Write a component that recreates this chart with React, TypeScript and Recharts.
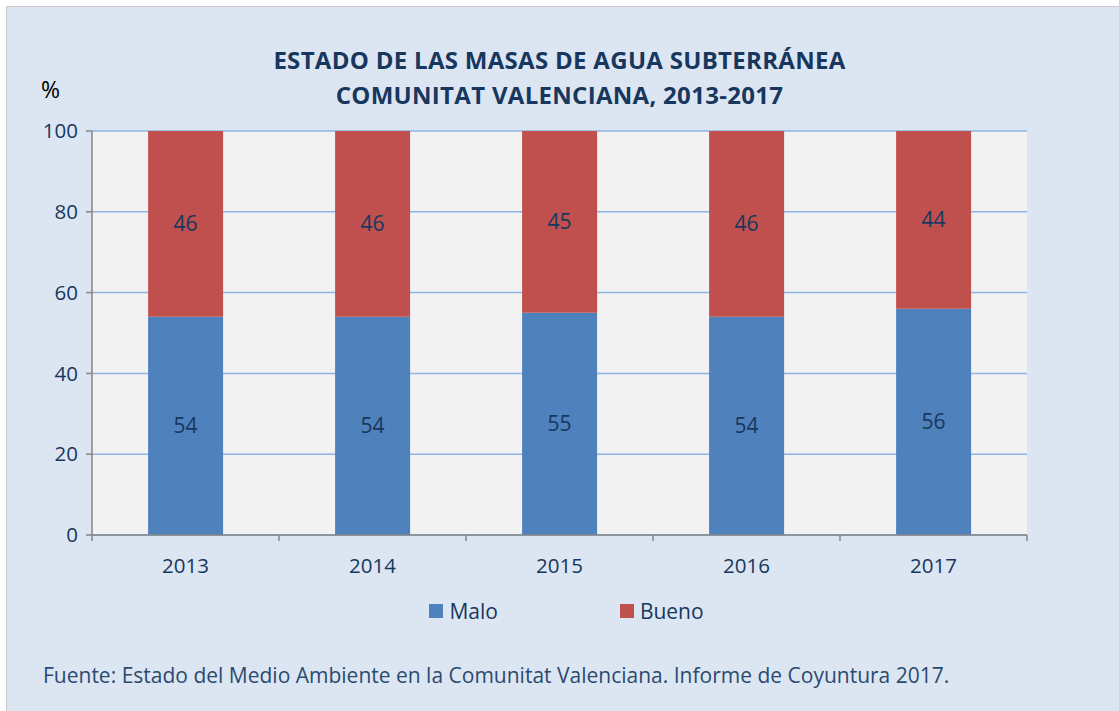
import React from 'react';
import {
  BarChart,
  Bar,
  XAxis,
  YAxis,
  CartesianGrid,
  LabelList,
} from 'recharts';

// Values
const years = ['2013', '2014', '2015', '2016', '2017'];
const malo = [54, 54, 55, 54, 56];
const bueno = [46, 46, 45, 46, 44];
const yTicks = [0, 20, 40, 60, 80, 100];

// bars sit at the middle of each unit slot; whole numbers are the slot edges
const data = years.map((year, i) => ({ x: i + 0.5, year, malo: malo[i], bueno: bueno[i] }));
const xTicks = years.flatMap((_, i) => [i, i + 0.5]).concat(years.length);

const FONT = '"Open Sans", sans-serif';
const NAVY = '#17375e';
const BLUE = '#4f81bd';
const RED = '#c0504d';
const AXIS = '#868686';

const legendItems = [
  { name: 'Malo', color: BLUE },
  { name: 'Bueno', color: RED },
];

function YearTick(props: any) {
  const { x, y, payload } = props;
  const v = payload.value as number;
  if (Number.isInteger(v)) {
    return <line x1={x} x2={x} y1={y} y2={y + 6} stroke={AXIS} strokeWidth={1.5} />;
  }
  return (
    <text x={x} y={y + 38} textAnchor="middle" fill={NAVY} fontFamily={FONT} fontSize={20.5}>
      {years[Math.floor(v)]}
    </text>
  );
}

export default function App() {
  return (
    <div style={{ position: 'absolute', left: 0, top: 0, width: 1119, height: 711, background: '#fff', overflow: 'hidden' }}>
      <div
        style={{
          position: 'absolute',
          left: 6,
          top: 6,
          width: 1119,
          height: 711,
          background: '#dce6f2',
          border: '1.5px solid #c9c9c9',
        }}
      />
      <div
        style={{
          position: 'absolute',
          left: 0,
          top: 42,
          width: 1119,
          textAlign: 'center',
          fontFamily: FONT,
          fontWeight: 700,
          fontSize: 24,
          letterSpacing: 0.3,
          lineHeight: '35px',
          color: NAVY,
        }}
      >
        ESTADO DE LAS MASAS DE AGUA SUBTERRÁNEA
        <br />
        COMUNITAT VALENCIANA, 2013-2017
      </div>
      <div style={{ position: 'absolute', left: 41, top: 73, fontFamily: FONT, fontSize: 23, color: '#000' }}>%</div>
      <div style={{ position: 'absolute', left: 43, top: 661, fontFamily: FONT, fontSize: 21, color: '#2b4a70' }}>
        Fuente: Estado del Medio Ambiente en la Comunitat Valenciana. Informe de Coyuntura 2017.
      </div>
      <div
        style={{
          position: 'absolute',
          left: 7,
          top: 597,
          width: 1119,
          display: 'flex',
          justifyContent: 'center',
          gap: 122,
          fontFamily: FONT,
          fontSize: 21,
          color: NAVY,
        }}
      >
        {legendItems.map((it) => (
          <div key={it.name} style={{ display: 'flex', alignItems: 'center' }}>
            <span style={{ width: 14, height: 14, background: it.color, display: 'inline-block', marginRight: 6 }} />
            {it.name}
          </div>
        ))}
      </div>
      <div style={{ position: 'absolute', left: 0, top: 0 }}>
        <BarChart
          width={1119}
          height={711}
          data={data}
          margin={{ top: 131, right: 92, bottom: 136, left: 0 }}
          barCategoryGap="30%"
        >
          <CartesianGrid vertical={false} stroke="#8eb4e3" strokeWidth={1.5} fill="#f2f2f2" />
          <XAxis
            dataKey="x"
            type="number"
            domain={[0, years.length]}
            ticks={xTicks}
            interval={0}
            allowDecimals
            height={40}
            stroke={AXIS}
            strokeWidth={1.5}
            tickLine={false}
            tickSize={0}
            tickMargin={0}
            tick={<YearTick />}
          />
          <YAxis
            domain={[0, 100]}
            ticks={yTicks}
            width={92}
            stroke={AXIS}
            strokeWidth={1.5}
            tickSize={6}
            tickMargin={8}
            tick={{ fill: NAVY, fontFamily: FONT, fontSize: 20.5 }}
          />
          <Bar dataKey="malo" name="Malo" stackId="a" fill={BLUE} isAnimationActive={false}>
            <LabelList dataKey="malo" position="center" fill={NAVY} fontFamily={FONT} fontSize={21} />
          </Bar>
          <Bar dataKey="bueno" name="Bueno" stackId="a" fill={RED} isAnimationActive={false}>
            <LabelList dataKey="bueno" position="center" fill={NAVY} fontFamily={FONT} fontSize={21} />
          </Bar>
        </BarChart>
      </div>
    </div>
  );
}
